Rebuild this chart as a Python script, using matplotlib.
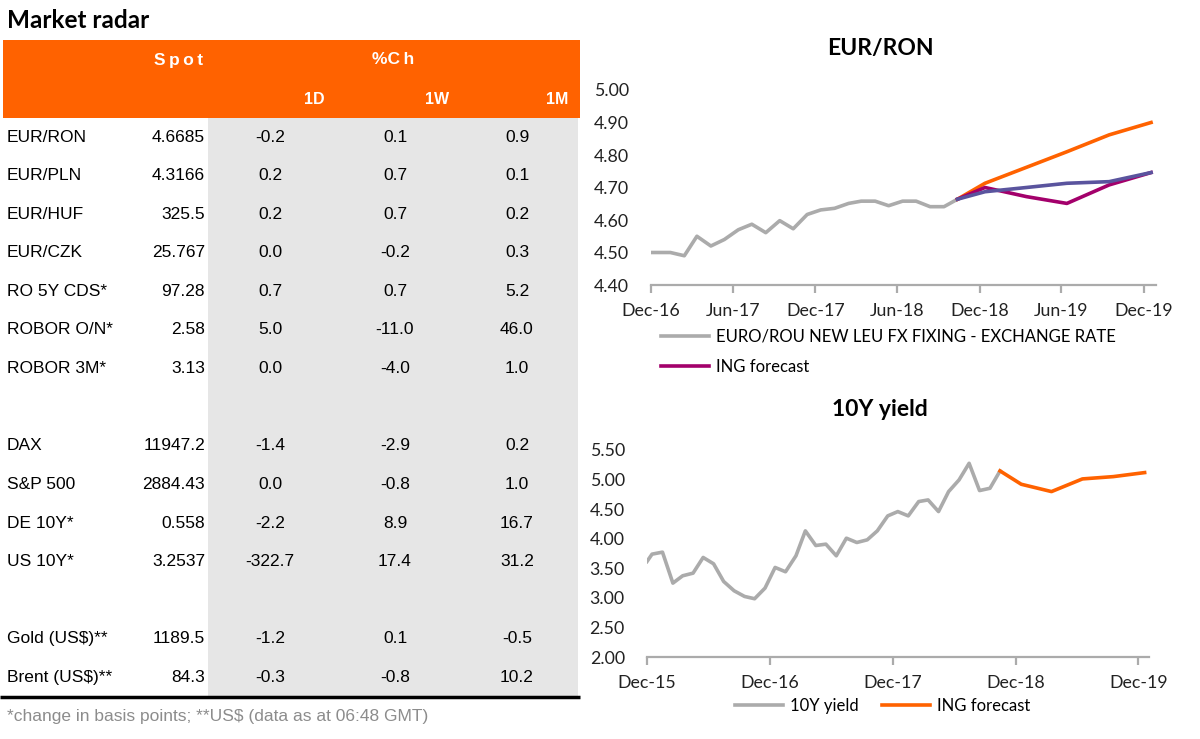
import pandas as pd
import matplotlib.pyplot as plt
import matplotlib.dates as mdates
from matplotlib.patches import Rectangle

# ---- tabla "Market radar" ----
labels = ['EUR/RON', 'EUR/PLN', 'EUR/HUF', 'EUR/CZK', 'RO 5Y CDS*', 'ROBOR O/N*', 'ROBOR 3M*', '',
          'DAX', 'S&P 500', 'DE 10Y*', 'US 10Y*', '', 'Gold (US$)**', 'Brent (US$)**']
spot = ['4.6685', '4.3166', '325.5', '25.767', '97.28', '2.58', '3.13', '',
        '11947.2', '2884.43', '0.558', '3.2537', '', '1189.5', '84.3']
ch_1d = ['-0.2', '0.2', '0.2', '0.0', '0.7', '5.0', '0.0', '',
         '-1.4', '0.0', '-2.2', '-322.7', '', '-1.2', '-0.3']
ch_1w = ['0.1', '0.7', '0.7', '-0.2', '0.7', '-11.0', '-4.0', '',
         '-2.9', '-0.8', '8.9', '17.4', '', '0.1', '-0.8']
ch_1m = ['0.9', '0.1', '0.2', '0.3', '5.2', '46.0', '1.0', '',
         '0.2', '1.0', '16.7', '31.2', '', '-0.5', '10.2']

# ---- EUR/RON ----
ron_dates = [pd.Timestamp('2016-12-01')] + list(pd.date_range('2017-01-13', '2018-10-13', freq=pd.DateOffset(months=1)))
ron_hist = [4.50, 4.50, 4.49, 4.55, 4.52, 4.54, 4.57, 4.587, 4.561, 4.598, 4.573, 4.617,
            4.631, 4.636, 4.651, 4.658, 4.658, 4.644, 4.658, 4.658, 4.641, 4.641, 4.664]
ron_fc_dates = pd.to_datetime(['2018-10-13', '2018-12-13', '2019-03-15', '2019-06-13', '2019-09-15', '2019-12-17'])
ron_ing = [4.664, 4.70, 4.672, 4.651, 4.708, 4.746]
ron_orange = [4.664, 4.713, 4.762, 4.81, 4.862, 4.90]
ron_blue = [4.664, 4.687, 4.70, 4.713, 4.718, 4.746]

# ---- 10Y yield ----
y10_dates = [pd.Timestamp('2015-12-01')] + list(pd.date_range('2015-12-16', '2018-10-16', freq=pd.DateOffset(months=1)))
y10_hist = [3.615, 3.739, 3.773, 3.249, 3.373, 3.418, 3.683, 3.576, 3.277, 3.120, 3.024, 2.985,
            3.165, 3.514, 3.441, 3.711, 4.133, 3.885, 3.908, 3.711, 4.009, 3.936, 3.981, 4.133,
            4.386, 4.459, 4.386, 4.628, 4.656, 4.459, 4.797, 4.994, 5.275, 4.814, 4.853, 5.146]
y10_fc_dates = pd.to_datetime(['2018-10-16', '2018-12-18', '2019-03-18', '2019-06-18', '2019-09-18', '2019-12-20'])
y10_ing = [5.146, 4.921, 4.797, 5.011, 5.05, 5.118]

GRIS = '#ABABAB'
NARANJA = '#FF6200'
MORADO = '#A3006B'
AZUL = '#5A549E'
W, H = 1200, 739
CHART_FONT = ['Lato', 'DejaVu Sans']
TABLE_FONT = ['Liberation Sans', 'DejaVu Sans']

fig = plt.figure(figsize=(12, 7.39), dpi=100)

# capa en pixeles para la tabla y los titulos
ax0 = fig.add_axes([0, 0, 1, 1])
ax0.set_xlim(0, W)
ax0.set_ylim(H, 0)
ax0.axis('off')

ax0.text(7, 20, 'Market radar', fontsize=17.5, fontweight='bold', family=CHART_FONT, va='center', ha='left')
ax0.add_patch(Rectangle((3, 40), 577, 78, color=NARANJA, lw=0))
ax0.add_patch(Rectangle((208, 118), 370, 578, color='#E6E6E6', lw=0))
ax0.plot([0, 580], [697, 697], color='black', lw=2.5, solid_capstyle='butt')

ax0.text(179, 60, 'S\u2009p\u2009o\u2009t', fontsize=12.5, fontweight='bold', color='white', family=TABLE_FONT, ha='center', va='center')
ax0.text(393, 60, '%C\u2009h', fontsize=12.5, fontweight='bold', color='white', family=TABLE_FONT, ha='center', va='center')
for xh, h in zip([325, 449, 568], ['1D', '1W', '1M']):
    ax0.text(xh, 100, h, fontsize=11.5, fontweight='bold', color='white', family=TABLE_FONT, ha='right', va='center')

for i, lab in enumerate(labels):
    if not lab:
        continue
    yy = 137 + i * 38.6
    ax0.text(7, yy, lab, fontsize=12.5, family=TABLE_FONT, ha='left', va='center')
    ax0.text(205, yy, spot[i], fontsize=12.5, family=TABLE_FONT, ha='right', va='center')
    for xc, col in zip([270, 395, 517], [ch_1d, ch_1w, ch_1m]):
        ax0.text(xc, yy, col[i], fontsize=12.5, family=TABLE_FONT, ha='center', va='center')

ax0.text(7, 717, '*change in basis points; **US$ (data as at 06:48 GMT)', fontsize=12.5,
         color='#8C8C8C', family=TABLE_FONT, ha='left', va='center')

ax0.text(880, 48, 'EUR/RON', fontsize=16.5, fontweight='bold', family=CHART_FONT, ha='center', va='center')
ax0.text(880, 410, '10Y yield', fontsize=16.5, fontweight='bold', family=CHART_FONT, ha='center', va='center')


def estilo(ax):
    ax.set_facecolor('none')
    for s in ['top', 'right', 'left']:
        ax.spines[s].set_visible(False)
    ax.spines['bottom'].set_color(GRIS)
    ax.spines['bottom'].set_linewidth(1.6)
    ax.tick_params(axis='y', length=0, pad=16, labelsize=12.8, labelcolor='#222222')
    ax.tick_params(axis='x', length=6, width=1.6, color=GRIS, pad=7, labelsize=12.8, labelcolor='#222222')
    ax.xaxis.set_major_formatter(mdates.DateFormatter('%b-%y'))
    for t in ax.get_xticklabels() + ax.get_yticklabels():
        t.set_family(CHART_FONT)


# grafico EUR/RON
ax1 = fig.add_axes([651 / W, 1 - 285 / H, 505 / W, 195 / H])
ax1.plot(ron_dates, ron_hist, color=GRIS, lw=2.6, label='EURO/ROU NEW LEU FX FIXING - EXCHANGE RATE')
ax1.plot(ron_fc_dates, ron_orange, color=NARANJA, lw=2.6)
ax1.plot(ron_fc_dates, ron_ing, color=MORADO, lw=2.6, label='ING forecast')
ax1.plot(ron_fc_dates, ron_blue, color=AZUL, lw=2.6)
ax1.set_ylim(4.40, 5.00)
ax1.set_yticks([4.40, 4.50, 4.60, 4.70, 4.80, 4.90, 5.00])
ax1.yaxis.set_major_formatter(plt.FormatStrFormatter('%.2f'))
ax1.set_xlim(pd.Timestamp('2016-12-01'), pd.Timestamp('2019-12-28'))
ax1.set_xticks(pd.to_datetime(['2016-12-01', '2017-06-01', '2017-12-01', '2018-06-01',
                               '2018-12-01', '2019-06-01', '2019-12-01']))
estilo(ax1)
ax1.legend(loc='upper left', bbox_to_anchor=(661 / W, 1 - 329 / H), bbox_transform=fig.transFigure,
           frameon=False, borderpad=0, borderaxespad=0, handlelength=2.9, handletextpad=0.4,
           labelspacing=0.83, prop={'family': CHART_FONT, 'size': 12})

# grafico 10Y yield
ax2 = fig.add_axes([647 / W, 1 - 657 / H, 502 / W, 207 / H])
ax2.plot(y10_dates, y10_hist, color=GRIS, lw=2.6, label='10Y yield')
ax2.plot(y10_fc_dates, y10_ing, color=NARANJA, lw=2.6, label='ING forecast')
ax2.set_ylim(2.00, 5.50)
ax2.set_yticks([2.0, 2.5, 3.0, 3.5, 4.0, 4.5, 5.0, 5.5])
ax2.yaxis.set_major_formatter(plt.FormatStrFormatter('%.2f'))
ax2.set_xlim(pd.Timestamp('2015-12-01'), pd.Timestamp('2020-01-02'))
ax2.set_xticks(pd.to_datetime(['2015-12-01', '2016-12-01', '2017-12-01', '2018-12-01', '2019-12-01']))
estilo(ax2)
ax2.legend(loc='upper left', bbox_to_anchor=(735 / W, 1 - 698 / H), bbox_transform=fig.transFigure,
           ncol=2, frameon=False, borderpad=0, borderaxespad=0, handlelength=2.9, handletextpad=0.4,
           columnspacing=1.4, prop={'family': CHART_FONT, 'size': 12})

fig.savefig('out.png', dpi=100)
